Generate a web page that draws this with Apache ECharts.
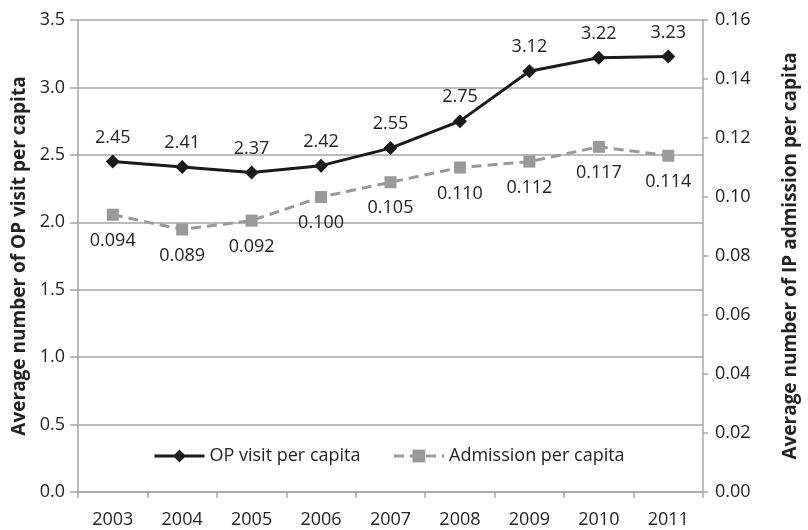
<!DOCTYPE html>
<html>
<head>
<meta charset="utf-8">
<script src="https://cdn.jsdelivr.net/npm/echarts@6/dist/echarts.min.js"></script>
<style>
  html, body { margin: 0; padding: 0; background: #fff; }
  #chart { width: 808px; height: 530px; }
</style>
</head>
<body>
<div id="chart"></div>
<script>
// Years on the x axis
const years = ['2003', '2004', '2005', '2006', '2007', '2008', '2009', '2010', '2011'];
// Outpatient visits per capita (left axis)
const opVisits = [2.45, 2.41, 2.37, 2.42, 2.55, 2.75, 3.12, 3.22, 3.23];
// Inpatient admissions per capita (right axis)
const admissions = [0.094, 0.089, 0.092, 0.100, 0.105, 0.110, 0.112, 0.117, 0.114];

const font = '"Open Sans", "Liberation Sans", sans-serif';
const axisGray = '#a6a6a6';
const textColor = '#222';

const chart = echarts.init(document.getElementById('chart'), null, { renderer: 'canvas' });

chart.setOption({
  animation: false,
  backgroundColor: '#fff',
  textStyle: { fontFamily: font },
  grid: { left: 78, right: 79, top: 20, bottom: 38, containLabel: false },
  legend: {
    left: 148,
    top: 442,
    itemWidth: 50,
    itemHeight: 16,
    itemGap: 32,
    textStyle: { fontFamily: font, fontSize: 18, color: textColor },
    data: [
      { name: 'OP visit per capita', lineStyle: { width: 3 } },
      { name: 'Admission per capita', lineStyle: { width: 3 } }
    ]
  },
  xAxis: {
    type: 'category',
    data: years,
    boundaryGap: true,
    axisLine: { lineStyle: { color: axisGray, width: 1.5 } },
    axisTick: { show: true, inside: false, length: 6, lineStyle: { color: axisGray, width: 1.5 } },
    axisLabel: { fontFamily: font, fontSize: 18, color: textColor, margin: 19 }
  },
  yAxis: [
    {
      type: 'value',
      min: 0,
      max: 3.5,
      interval: 0.5,
      name: 'Average number of OP visit per capita',
      nameLocation: 'middle',
      nameGap: 43,
      nameRotate: 90,
      nameTextStyle: { fontFamily: font, fontSize: 19, fontWeight: 'bold', color: textColor },
      axisLine: { show: true, lineStyle: { color: axisGray, width: 1.5 } },
      axisTick: { show: true, length: 8, lineStyle: { color: axisGray, width: 1.5 } },
      axisLabel: {
        fontFamily: font, fontSize: 18, color: textColor, margin: 13,
        formatter: v => v.toFixed(1)
      },
      splitLine: { show: true, lineStyle: { color: axisGray, width: 1.5 } }
    },
    {
      type: 'value',
      min: 0,
      max: 0.16,
      interval: 0.02,
      position: 'right',
      name: 'Average number of IP admission per capita',
      nameLocation: 'middle',
      nameGap: 78,
      nameRotate: 90,
      nameTextStyle: { fontFamily: font, fontSize: 19, fontWeight: 'bold', color: textColor },
      axisLine: { show: true, lineStyle: { color: axisGray, width: 1.5 } },
      axisTick: { show: true, length: 5, lineStyle: { color: axisGray, width: 1.5 } },
      axisLabel: {
        fontFamily: font, fontSize: 18, color: textColor, margin: 12,
        formatter: v => v.toFixed(2)
      },
      splitLine: { show: false }
    }
  ],
  series: [
    {
      name: 'OP visit per capita',
      type: 'line',
      yAxisIndex: 0,
      data: opVisits,
      symbol: 'diamond',
      symbolSize: 14,
      lineStyle: { color: '#1a1a1a', width: 3 },
      itemStyle: { color: '#1a1a1a' },
      label: {
        show: true,
        position: 'top',
        distance: 8,
        fontFamily: font,
        fontSize: 18,
        color: textColor,
        formatter: p => p.value.toFixed(2)
      },
      z: 3
    },
    {
      name: 'Admission per capita',
      type: 'line',
      yAxisIndex: 1,
      data: admissions,
      symbol: 'rect',
      symbolSize: 12,
      lineStyle: { color: '#999999', width: 3, type: [10, 6] },
      itemStyle: { color: '#999999' },
      label: {
        show: true,
        position: 'bottom',
        distance: 11,
        fontFamily: font,
        fontSize: 18,
        color: textColor,
        formatter: p => p.value.toFixed(3)
      },
      z: 2
    }
  ]
});
</script>
</body>
</html>
